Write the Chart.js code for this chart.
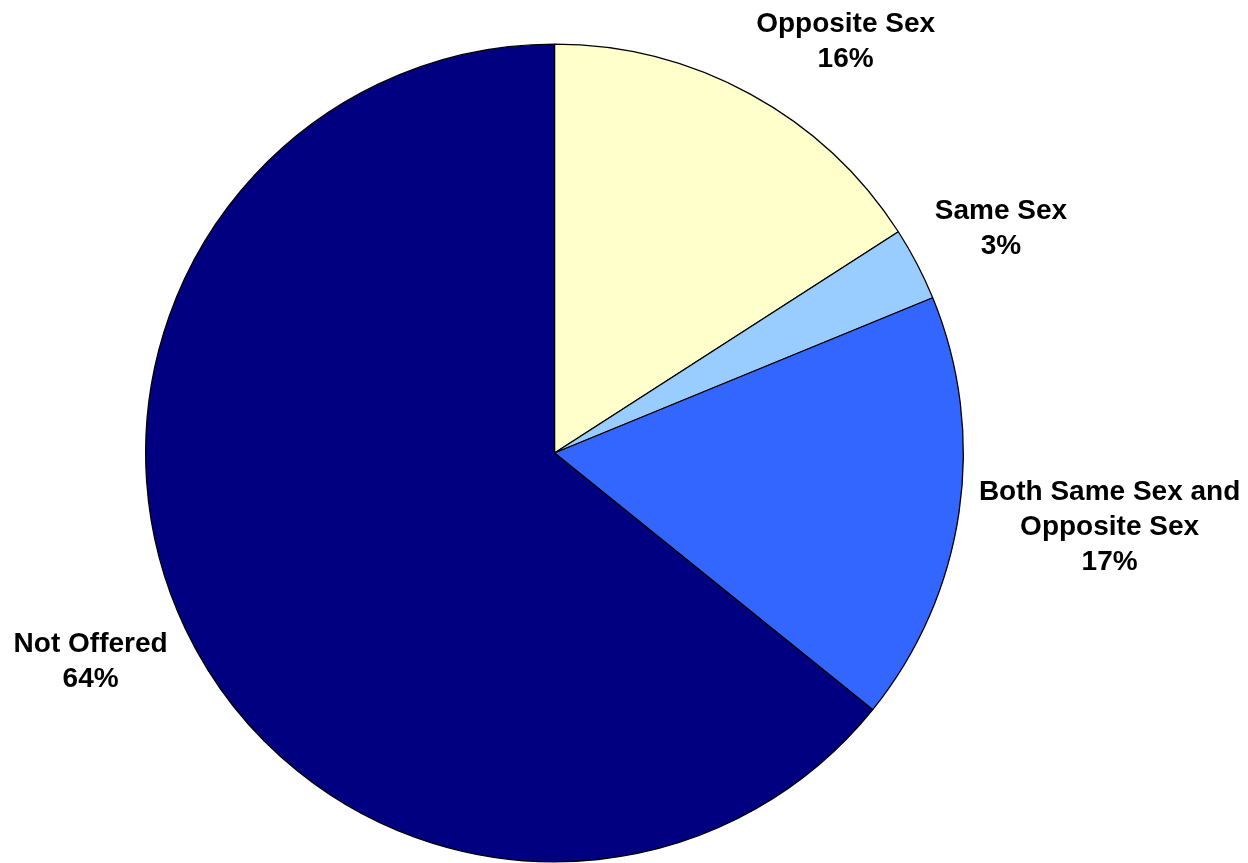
<!DOCTYPE html>
<html>
<head>
<meta charset="utf-8">
<script src="https://cdn.jsdelivr.net/npm/chart.js@4/dist/chart.umd.min.js"></script>
<style>
  html, body { margin: 0; padding: 0; background: #ffffff; }
  canvas { display: block; }
</style>
</head>
<body>
<canvas id="c" width="1248" height="863"></canvas>
<script>
const categories = ["Opposite Sex", "Same Sex", "Both Same Sex and\nOpposite Sex", "Not Offered"];
const values = [15.9, 2.9, 17.0, 64.2];
const colors = ["#FFFFCC", "#99CCFF", "#3366FF", "#000080"];

const labelFont = 'bold 28px "Liberation Sans", Arial, sans-serif';
const lineH = 35;

const outsideLabels = {
  id: 'outsideLabels',
  afterDatasetsDraw(chart) {
    const ctx = chart.ctx;
    const meta = chart.getDatasetMeta(0);
    const data = chart.data.datasets[0].data;
    const total = data.reduce((a, b) => a + b, 0);
    ctx.save();
    ctx.font = labelFont;
    ctx.fillStyle = '#000000';
    ctx.textAlign = 'center';
    ctx.textBaseline = 'middle';
    meta.data.forEach((arc, i) => {
      const p = arc.getProps(['x', 'y', 'startAngle', 'endAngle', 'outerRadius'], true);
      const mid = (p.startAngle + p.endAngle) / 2;
      const ux = Math.cos(mid), uy = Math.sin(mid);
      const r = p.outerRadius + 20;
      const ax = p.x + ux * r, ay = p.y + uy * r;
      const lines = chart.data.labels[i].split('\n');
      lines.push(Math.round(data[i] / total * 100) + '%');
      let w = 0;
      lines.forEach(l => { w = Math.max(w, ctx.measureText(l).width); });
      const h = lines.length * lineH;
      const fx = Math.max(-1, Math.min(1, ux * 2));
      const fy = Math.max(-1, Math.min(1, uy * 1.6));
      const cx = ax + fx * w / 2;
      const cy = ay + fy * h / 2;
      lines.forEach((l, k) => {
        ctx.fillText(l, cx, cy - h / 2 + lineH * (k + 0.5));
      });
    });
    ctx.restore();
  }
};

new Chart(document.getElementById('c'), {
  type: 'pie',
  data: {
    labels: categories,
    datasets: [{
      data: values,
      backgroundColor: colors,
      borderColor: '#000000',
      borderWidth: 1.3,
      hoverOffset: 0
    }]
  },
  options: {
    responsive: false,
    animation: false,
    layout: { padding: { left: 145, top: 43, right: 284, bottom: 0 } },
    plugins: {
      legend: { display: false },
      tooltip: { enabled: false }
    }
  },
  plugins: [outsideLabels]
});
</script>
</body>
</html>
